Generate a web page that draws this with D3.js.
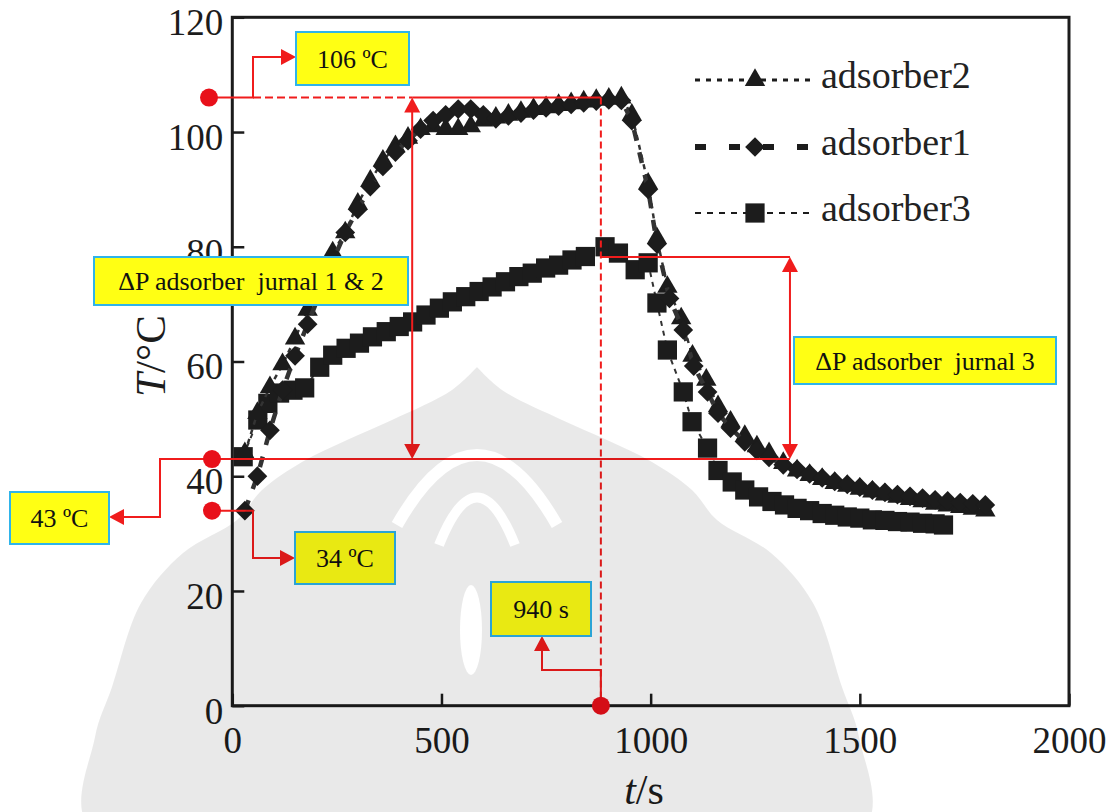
<!DOCTYPE html>
<html>
<head>
<meta charset="utf-8">
<script src="https://cdn.jsdelivr.net/npm/d3@7"></script>
<style>
  body { margin: 0; background: #fff; }
  text { font-family: "Liberation Serif", "Times New Roman", serif; }
</style>
</head>
<body>
<script>
const width = 1112;
const height = 812;

// adsorber2 (triangles)
const a2Time = [30, 60, 90, 120, 150, 180, 210, 240, 270, 300, 330, 360, 390, 420, 450, 480, 510, 540, 570, 600, 630, 660, 690, 720, 750, 780, 810, 840, 870, 900, 930, 955, 994, 1015, 1040, 1073, 1100, 1133, 1161, 1191, 1225, 1254, 1283, 1317, 1350, 1380, 1410, 1440, 1470, 1500, 1530, 1560, 1590, 1620, 1650, 1680, 1710, 1740, 1770, 1800];
const a2Temp = [44, 51, 55.5, 59.5, 64, 69, 74, 79, 82.5, 87.5, 91.5, 95, 97.5, 99, 100.5, 101, 100.5, 100.5, 101, 102, 102.5, 103, 103.5, 104, 104.3, 104.7, 105, 105.3, 105.6, 105.8, 106, 103, 91, 81.5, 73, 67.5, 61, 56.8, 52.2, 49.5, 47, 45.2, 44, 42.3, 41, 40.2, 39.5, 38.8, 38.3, 37.8, 37.3, 36.8, 36.4, 36, 35.6, 35.2, 34.9, 34.6, 34.3, 34];

// adsorber1 (diamonds)
const a1Time = [30, 60, 90, 120, 150, 180, 210, 240, 270, 300, 330, 360, 390, 420, 450, 480, 510, 540, 570, 600, 630, 660, 690, 720, 750, 780, 810, 840, 870, 900, 930, 955, 994, 1015, 1045, 1078, 1103, 1136, 1161, 1191, 1225, 1254, 1283, 1317, 1350, 1380, 1410, 1440, 1470, 1500, 1530, 1560, 1590, 1620, 1650, 1680, 1710, 1740, 1770, 1800];
const a1Temp = [34, 40, 48, 55, 61, 66.5, 72, 77.5, 82.5, 86.5, 90.5, 94, 96.5, 98.5, 100.5, 102, 103, 104, 104, 103, 102.3, 102.8, 103.3, 103.8, 104.2, 104.5, 104.8, 105.1, 105.4, 105.6, 105.5, 102, 90, 80.5, 71, 65.5, 59.2, 54.7, 51, 48.4, 46, 44.5, 43.3, 42, 41.2, 40.4, 39.7, 39.1, 38.6, 38.1, 37.6, 37.2, 36.8, 36.5, 36.2, 35.9, 35.7, 35.4, 35.2, 35];

// adsorber3 (squares)
const a3Time = [26, 61, 85, 113, 145, 173, 209, 240, 272, 304, 335, 368, 399, 431, 463, 495, 526, 558, 590, 621, 653, 685, 717, 749, 780, 812, 844, 891, 923, 963, 994, 1015, 1040, 1078, 1099, 1136, 1161, 1195, 1225, 1258, 1290, 1320, 1350, 1380, 1410, 1440, 1470, 1500, 1530, 1560, 1590, 1620, 1650, 1680, 1700];
const a3Temp = [43.4, 49.8, 52.7, 54.5, 55, 55.4, 59, 61.1, 62.3, 63.2, 64.3, 65.2, 66.1, 66.9, 68.1, 69.3, 70.4, 71.3, 72.2, 73, 73.9, 74.8, 75.4, 76.3, 76.8, 77.7, 78.3, 80, 78.9, 76, 77.2, 70.2, 62, 54.7, 49.5, 44.9, 41, 39, 37.6, 36.4, 35.6, 35, 34.4, 34, 33.5, 33.2, 32.9, 32.7, 32.4, 32.3, 32.1, 32, 31.8, 31.7, 31.5];

const xTicks = [0, 500, 1000, 1500, 2000];
const yTicks = [0, 20, 40, 60, 80, 100, 120];
const legendNames = ["adsorber2", "adsorber1", "adsorber3"];

const x = d3.scaleLinear().domain([0, 2000]).range([232.3, 1069]);
const y = d3.scaleLinear().domain([0, 120]).range([705.7, 17.3]);

const svg = d3.select("body")
  .append("svg")
  .attr("width", width)
  .attr("height", height);

const ink = "#1c1c1c";
const red = "#f01c1c";

// axes
const yAxis = svg.append("g")
  .attr("transform", `translate(${x(0)},0)`)
  .call(d3.axisLeft(y).tickValues(yTicks).tickSize(-12).tickPadding(9).tickFormat(d3.format("d")));
const xAxis = svg.append("g")
  .attr("transform", `translate(0,${y(0)})`)
  .call(d3.axisBottom(x).tickValues(xTicks).tickSize(-12).tickPadding(21).tickFormat(d3.format("d")));

[xAxis, yAxis].forEach(g => {
  g.select(".domain").remove();
  g.selectAll(".tick line").attr("stroke", ink).attr("stroke-width", 2.5);
  g.selectAll(".tick text")
    .attr("fill", ink)
    .style("font-size", "37px")
    .style("font-family", "'Liberation Serif', serif");
});
yAxis.selectAll(".tick text").attr("dy", "0.47em");

svg.append("rect")
  .attr("x", x(0)).attr("y", y(120))
  .attr("width", x(2000) - x(0)).attr("height", y(0) - y(120))
  .attr("fill", "none").attr("stroke", ink).attr("stroke-width", 3);

// axis titles
const yTitle = svg.append("text")
  .attr("transform", "translate(165,356) rotate(-90)")
  .attr("text-anchor", "middle")
  .attr("fill", ink)
  .style("font-size", "43px");
yTitle.append("tspan").style("font-style", "italic").text("T");
yTitle.append("tspan").text("/°C");

const xTitle = svg.append("text")
  .attr("x", 644).attr("y", 804)
  .attr("text-anchor", "middle")
  .attr("fill", ink)
  .style("font-size", "42px");
xTitle.append("tspan").style("font-style", "italic").text("t");
xTitle.append("tspan").text("/s");

// series
const tri = d3.symbol().type(d3.symbolTriangle).size(180);
const sq = d3.symbol().type(d3.symbolSquare).size(370);
const dia = d3.symbol().type(d3.symbolSquare).size(195);

const series = [
  { t: a3Time, v: a3Temp, dash: "5,5", w: 2, shape: sq, rot: 0 },
  { t: a2Time, v: a2Temp, dash: "5,5", w: 2.5, shape: tri, rot: 0 },
  { t: a1Time, v: a1Temp, dash: "11,12", w: 4.5, shape: dia, rot: 45 }
];

const line = d3.line().x(d => x(d[0])).y(d => y(d[1]));

series.forEach(s => {
  const pts = s.t.map((t, i) => [t, s.v[i]]);
  svg.append("path")
    .datum(pts)
    .attr("d", line)
    .attr("fill", "none")
    .attr("stroke", "#333")
    .attr("stroke-width", s.w)
    .attr("stroke-dasharray", s.dash);
  svg.append("g")
    .selectAll("path")
    .data(pts)
    .enter()
    .append("path")
    .attr("d", s.shape)
    .attr("transform", d => `translate(${x(d[0])},${y(d[1])}) rotate(${s.rot})`)
    .attr("fill", ink);
});

// legend
const legendY = [80, 147, 213];
const legendShapes = [[tri, 0, "5,6", 3], [dia, 45, "11,23", 6], [sq, 0, "6,6", 2]];
legendNames.forEach((name, i) => {
  const ly = legendY[i];
  const [shape, rot, dash, w] = legendShapes[i];
  svg.append("line")
    .attr("x1", 695).attr("x2", 810)
    .attr("y1", ly).attr("y2", ly)
    .attr("stroke", ink).attr("stroke-width", w)
    .attr("stroke-dasharray", dash);
  svg.append("path")
    .attr("d", shape)
    .attr("transform", `translate(755,${ly}) rotate(${rot})`)
    .attr("fill", ink);
  svg.append("text")
    .attr("x", 821).attr("y", ly + 8)
    .attr("fill", "#222")
    .style("font-size", "38px")
    .text(name);
});

// annotations
const ann = svg.append("g");

function arrowHead(tx, ty, dir) {
  const L = 15, H = 8;
  let p;
  if (dir === "right") p = [[tx, ty], [tx - L, ty - H], [tx - L, ty + H]];
  if (dir === "left") p = [[tx, ty], [tx + L, ty - H], [tx + L, ty + H]];
  if (dir === "up") p = [[tx, ty], [tx - H, ty + L], [tx + H, ty + L]];
  if (dir === "down") p = [[tx, ty], [tx - H, ty - L], [tx + H, ty - L]];
  ann.append("path").attr("d", "M" + p.join("L") + "Z").attr("fill", red);
}

function redPath(d, dash) {
  ann.append("path")
    .attr("d", d)
    .attr("fill", "none")
    .attr("stroke", red)
    .attr("stroke-width", 2)
    .attr("stroke-dasharray", dash || null);
}

const peakX = x(881);
const leftArrowX = x(430);
const rightArrowX = x(1333);
const y106 = y(106), y43 = y(43), y34 = y(34), y78 = y(78.2);

// guide lines
redPath(`M253,${y106}H${leftArrowX}`, "8,4");
redPath(`M${leftArrowX},${y106}H${peakX}`);
redPath(`M${peakX},${y106}V${y(0)}`, "7,4");
redPath(`M212,${y43}H${rightArrowX}`);
redPath(`M${peakX},${y78}H${rightArrowX}`);

// double arrows
redPath(`M${leftArrowX},${y106 + 12}V${y43 - 12}`);
arrowHead(leftArrowX, y106, "up");
arrowHead(leftArrowX, y43, "down");
redPath(`M${rightArrowX},${y78 + 12}V${y43 - 12}`);
arrowHead(rightArrowX, y78, "up");
arrowHead(rightArrowX, y43, "down");

// callouts
redPath(`M209,${y106}H253V57H283`);
arrowHead(296, 57, "right");
redPath(`M212,${y43}H160V517H122`);
arrowHead(109, 517, "left");
redPath(`M212,${y34}H253V558H282`);
arrowHead(295, 558, "right");
redPath(`M${peakX},${y(0)}V670H542V648`);
arrowHead(542, 636, "up");

[[209, y106], [212, y43], [212, y34], [peakX, y(0)]].forEach(([cx, cy]) => {
  ann.append("circle").attr("cx", cx).attr("cy", cy).attr("r", 9).attr("fill", "#e8101a");
});

const boxes = [
  { x: 296, y: 32, w: 113, h: 53, label: "106 ºC" },
  { x: 94, y: 257, w: 314, h: 48, label: "ΔP adsorber  jurnal 1 & 2" },
  { x: 794, y: 337, w: 262, h: 47, label: "ΔP adsorber  jurnal 3" },
  { x: 10, y: 492, w: 99, h: 52, label: "43 ºC" },
  { x: 295, y: 532, w: 100, h: 52, label: "34 ºC" },
  { x: 491, y: 582, w: 100, h: 54, label: "940 s" }
];

boxes.forEach(b => {
  ann.append("rect")
    .attr("x", b.x).attr("y", b.y)
    .attr("width", b.w).attr("height", b.h)
    .attr("fill", "#ffff14")
    .attr("stroke", "#2fb4ea")
    .attr("stroke-width", 2);
  ann.append("text")
    .attr("x", b.x + b.w / 2)
    .attr("y", b.y + b.h / 2 + 9)
    .attr("text-anchor", "middle")
    .attr("fill", "#111")
    .style("font-size", "26px")
    .style("white-space", "pre")
    .text(b.label);
});

// faint grey watermark laid over the page
const cx = 477;
const rim = [[0, 367], [25, 390], [85, 420], [130, 440], [175, 462], [215, 490], [240, 520], [294, 553], [336, 603], [365, 687], [382, 737], [386, 830]];
const outline = rim.map(([dx, py]) => [cx + dx, py])
  .concat(rim.slice().reverse().map(([dx, py]) => [cx - dx, py]));

const defs = svg.append("defs");
const mask = defs.append("mask").attr("id", "wm-cut");
mask.append("rect").attr("width", width).attr("height", height).attr("fill", "#fff");
mask.append("path").attr("d", `M${cx - 80},525Q${cx},385 ${cx + 80},525`)
  .attr("fill", "none").attr("stroke", "#000").attr("stroke-width", 12);
mask.append("path").attr("d", `M${cx - 38},545Q${cx},450 ${cx + 38},545`)
  .attr("fill", "none").attr("stroke", "#000").attr("stroke-width", 10);
mask.append("ellipse").attr("cx", cx - 6).attr("cy", 630).attr("rx", 11).attr("ry", 45).attr("fill", "#000");

svg.append("path")
  .attr("d", d3.line().curve(d3.curveCatmullRomClosed)(outline))
  .attr("fill", "#000")
  .attr("fill-opacity", 0.085)
  .attr("mask", "url(#wm-cut)")
  .attr("pointer-events", "none");
</script>
</body>
</html>
